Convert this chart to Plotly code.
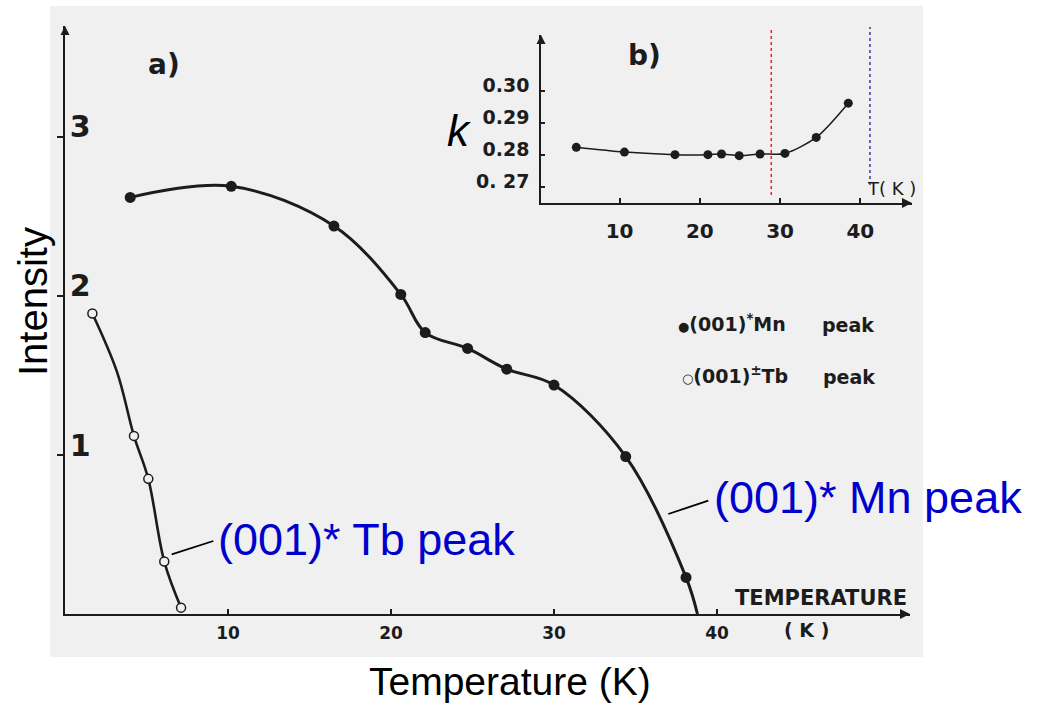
import plotly.graph_objects as go

W, H = 1039, 703

# ---- data ----
mn_T = [4.0, 10.2, 16.5, 20.6, 22.1, 24.7, 27.1, 30.0, 34.4, 38.1]
mn_I = [2.62, 2.69, 2.44, 2.01, 1.77, 1.67, 1.54, 1.44, 0.99, 0.23]
mn_end_T, mn_end_I = 38.8, 0.0          # where the drawn Mn curve meets the axis
tb_T = [1.68, 4.23, 5.11, 6.09, 7.12]
tb_I = [1.89, 1.12, 0.85, 0.33, 0.04]
tb_curve_T = [1.68, 3.20, 4.23, 5.11, 6.09, 7.12]   # drawn guide curve (bows outward)
tb_curve_I = [1.89, 1.52, 1.12, 0.85, 0.33, 0.04]
k_T = [4.6, 10.6, 16.9, 21.0, 22.7, 24.9, 27.5, 30.6, 34.5, 38.5]
k_val = [0.2823, 0.2808, 0.2800, 0.2800, 0.2802, 0.2797, 0.2802, 0.2804, 0.2854, 0.2961]
T_red, T_blue = 28.9, 41.2
main_xticks = [10, 20, 30, 40]
main_yticks = [1, 2, 3]
inset_xticks = [10, 20, 30, 40]
inset_yticks = [0.27, 0.28, 0.29, 0.30]
inset_yticktext = ["0. 27", "0.28", "0.29", "0.30"]
main_xrange = [0, 51.84]
main_yrange = [0, 3.698]
inset_xrange = [0.2, 46.44]
inset_yrange = [0.2649, 0.3174]


def px(x, y):
    return x / W, (H - y) / H


SCAN = "#f0f0f0"
INK = "#1c1c1c"
BLUE = "#0000cc"
SCANFONT = "DejaVu Sans"

fig = go.Figure()

# main plot
fig.add_trace(go.Scatter(x=mn_T + [mn_end_T], y=mn_I + [mn_end_I], mode="lines",
                         line=dict(color=INK, width=3, shape="spline", smoothing=1.0),
                         xaxis="x", yaxis="y", showlegend=False, hoverinfo="skip"))
fig.add_trace(go.Scatter(x=mn_T, y=mn_I, mode="markers",
                         marker=dict(color=INK, size=11),
                         xaxis="x", yaxis="y", showlegend=False, cliponaxis=False))
fig.add_trace(go.Scatter(x=tb_curve_T, y=tb_curve_I, mode="lines",
                         line=dict(color=INK, width=2.6, shape="spline", smoothing=1.0),
                         xaxis="x", yaxis="y", showlegend=False, hoverinfo="skip"))
fig.add_trace(go.Scatter(x=tb_T, y=tb_I, mode="markers",
                         marker=dict(color=SCAN, size=9, line=dict(color=INK, width=1.5)),
                         xaxis="x", yaxis="y", showlegend=False, cliponaxis=False))

# inset
fig.add_trace(go.Scatter(x=k_T, y=k_val, mode="lines+markers",
                         line=dict(color=INK, width=1.5, shape="spline", smoothing=0.8),
                         marker=dict(color=INK, size=9),
                         xaxis="x2", yaxis="y2", showlegend=False, cliponaxis=False))

# axis arrow heads (tip sits on the axis end)
fig.add_trace(go.Scatter(x=[main_xrange[0]], y=[main_yrange[1]], mode="markers",
                         marker=dict(symbol="arrow-up", size=9, color=INK),
                         xaxis="x", yaxis="y", showlegend=False, cliponaxis=False, hoverinfo="skip"))
fig.add_trace(go.Scatter(x=[main_xrange[1]], y=[main_yrange[0]], mode="markers",
                         marker=dict(symbol="arrow-right", size=10, color=INK),
                         xaxis="x", yaxis="y", showlegend=False, cliponaxis=False, hoverinfo="skip"))
fig.add_trace(go.Scatter(x=[inset_xrange[0]], y=[inset_yrange[1]], mode="markers",
                         marker=dict(symbol="arrow-up", size=9, color=INK),
                         xaxis="x2", yaxis="y2", showlegend=False, cliponaxis=False, hoverinfo="skip"))
fig.add_trace(go.Scatter(x=[inset_xrange[1]], y=[inset_yrange[0]], mode="markers",
                         marker=dict(symbol="arrow-right", size=10, color=INK),
                         xaxis="x2", yaxis="y2", showlegend=False, cliponaxis=False, hoverinfo="skip"))

x0, x1 = px(65, 0)[0], px(910, 0)[0]
y0, y1 = px(0, 614)[1], px(0, 26)[1]
ix0, ix1 = px(541, 0)[0], px(912, 0)[0]
iy0, iy1 = px(0, 203)[1], px(0, 35)[1]

fig.update_layout(
    width=W, height=H,
    margin=dict(l=0, r=0, t=0, b=0),
    paper_bgcolor="white", plot_bgcolor="rgba(0,0,0,0)",
    xaxis=dict(domain=[x0, x1], range=main_xrange, anchor="y",
               showline=True, linecolor=INK, linewidth=2, showgrid=False, zeroline=False,
               ticks="inside", ticklen=5, tickcolor=INK, tickwidth=1.5,
               tickvals=main_xticks, ticktext=[str(v) for v in main_xticks],
               tickfont=dict(family=SCANFONT, size=17, color=INK, weight="bold"),
               ticklabelstandoff=3),
    yaxis=dict(domain=[y0, y1], range=main_yrange, anchor="x",
               showline=True, linecolor=INK, linewidth=1.5, showgrid=False, zeroline=False,
               ticks="outside", ticklen=6, tickcolor=INK, tickwidth=1.5,
               tickvals=main_yticks, ticktext=[str(v) for v in main_yticks],
               ticklabelposition="inside", ticklabelshift=-10, ticklabelstandoff=8,
               tickfont=dict(family=SCANFONT, size=30, color=INK, weight="bold")),
    xaxis2=dict(domain=[ix0, ix1], range=inset_xrange, anchor="y2",
                showline=True, linecolor=INK, linewidth=1.8, showgrid=False, zeroline=False,
                ticks="inside", ticklen=5, tickcolor=INK, tickwidth=1.5,
                tickvals=inset_xticks, ticktext=[str(v) for v in inset_xticks],
                tickfont=dict(family=SCANFONT, size=20, color=INK, weight="bold"),
                ticklabelstandoff=9),
    yaxis2=dict(domain=[iy0, iy1], range=inset_yrange, anchor="x2",
                showline=True, linecolor=INK, linewidth=1.5, showgrid=False, zeroline=False,
                ticks="inside", ticklen=4, tickcolor=INK, tickwidth=1.5,
                tickvals=inset_yticks, ticktext=inset_yticktext,
                ticklabelshift=-5, ticklabelstandoff=6,
                tickfont=dict(family=SCANFONT, size=19, color=INK, weight="bold")),
)

shapes = []
# scanned page background
sx0, sy0 = px(50, 657)
sx1, sy1 = px(923, 6)
shapes.append(dict(type="rect", xref="paper", yref="paper", x0=sx0, y0=sy0, x1=sx1, y1=sy1,
                   fillcolor=SCAN, line=dict(width=0), layer="below"))
# dotted vertical markers in inset
shapes.append(dict(type="line", xref="x2", yref="paper", x0=T_red, x1=T_red,
                   y0=px(0, 195)[1], y1=px(0, 30)[1],
                   line=dict(color="#ff1a1a", width=1.5, dash="dot")))
shapes.append(dict(type="line", xref="x2", yref="paper", x0=T_blue, x1=T_blue,
                   y0=px(0, 185)[1], y1=px(0, 27)[1],
                   line=dict(color="#3a3aa0", width=1.5, dash="dot")))
# leader lines for labels
shapes.append(dict(type="line", xref="paper", yref="paper",
                   x0=px(171.7, 554.3)[0], y0=px(171.7, 554.3)[1],
                   x1=px(213.3, 541)[0], y1=px(213.3, 541)[1],
                   line=dict(color="black", width=1.8)))
shapes.append(dict(type="line", xref="paper", yref="paper",
                   x0=px(668.3, 514)[0], y0=px(668.3, 514)[1],
                   x1=px(708.3, 500.7)[0], y1=px(708.3, 500.7)[1],
                   line=dict(color="black", width=1.8)))
fig.update_layout(shapes=shapes)

ann = []


def text(x, y, s, size, color=INK, family=SCANFONT, bold=False, italic=False,
         xanchor="center", angle=0):
    xp, yp = px(x, y)
    ann.append(dict(x=xp, y=yp, xref="paper", yref="paper", text=s, showarrow=False,
                    xanchor=xanchor, yanchor="middle", textangle=angle,
                    font=dict(family=family, size=size, color=color,
                              weight="bold" if bold else "normal",
                              style="italic" if italic else "normal")))


text(164, 64, "a)", 28, bold=True)
text(644, 55, "b)", 28, bold=True)
text(459, 130, "k", 44, color="black", family="Liberation Sans", italic=True)
text(891, 188, "T( K )", 18)
text(821, 598, "TEMPERATURE", 21, bold=True)
text(806, 630, "( K )", 19, bold=True)
text(676, 323, "<span style='font-size:13px'>●</span>(001)<sup>*</sup>Mn", 19, bold=True, xanchor="left")
text(820, 325, "peak", 19, bold=True, xanchor="left")
text(680, 375, "<span style='font-size:13px'>○</span>(001)<sup>±</sup>Tb", 19, bold=True, xanchor="left")
text(821, 377, "peak", 19, bold=True, xanchor="left")
text(33, 302, "Intensity", 40, color="black", family="Liberation Sans", angle=-90)
text(510, 681, "Temperature (K)", 39, color="black", family="Liberation Sans")
text(216, 539, "(001)* Tb peak", 45, color=BLUE, family="Liberation Sans", xanchor="left")
text(712, 498, "(001)* Mn peak", 45, color=BLUE, family="Liberation Sans", xanchor="left")

fig.update_layout(annotations=ann)

fig.write_html("out.html", config={"displayModeBar": False},
               post_script="document.body.style.margin='0px';")
